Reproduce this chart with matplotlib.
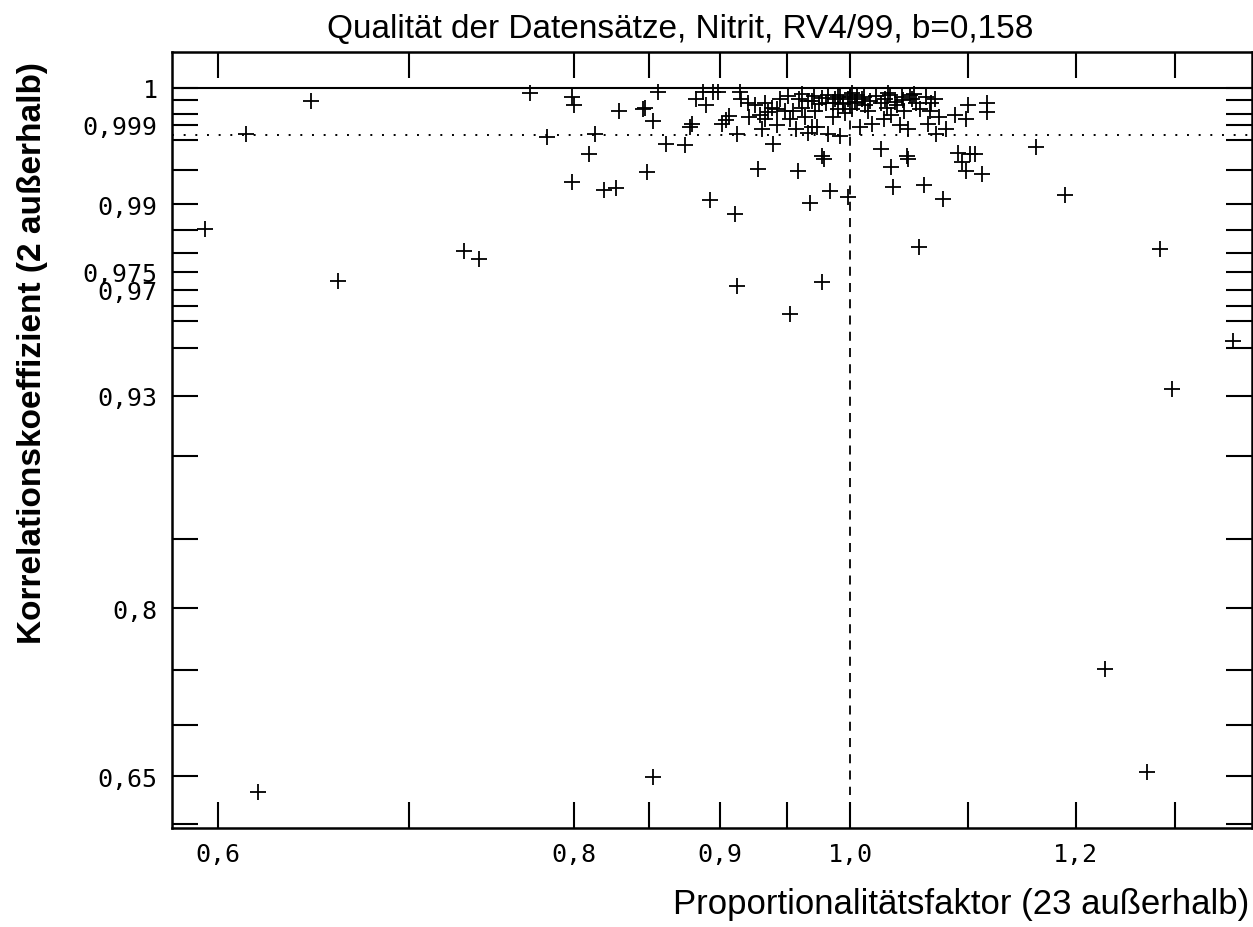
import numpy as np
import matplotlib
matplotlib.use("Agg")
import matplotlib.pyplot as plt

# Proportionalitaetsfaktor (x) und Korrelationskoeffizient (r)
faktor = [0.594, 0.614, 0.620, 0.647, 0.661, 0.732, 0.741, 0.772, 0.783, 0.799,
          0.800, 0.799, 0.810, 0.814, 0.820, 0.828, 0.830, 0.846, 0.847, 0.849,
          0.853, 0.856, 0.853, 0.862, 0.875, 0.880, 0.879, 0.883, 0.888, 0.890,
          0.893, 0.895, 0.899, 0.902, 0.905, 0.907, 0.911, 0.913, 0.915, 0.916,
          0.913, 0.921, 0.926, 0.928, 0.930, 0.931, 0.934, 0.936, 0.939, 0.940,
          0.943, 0.943, 0.951, 0.953, 0.953, 0.955, 0.957, 0.959, 0.960, 0.962,
          0.964, 0.967, 0.968, 0.970, 0.972, 0.974, 0.978, 0.979, 0.981, 0.982,
          0.984, 0.986, 0.988, 0.990, 0.992, 0.994, 0.996, 0.998, 1.000, 1.002,
          1.004, 1.006, 1.008, 1.010, 1.012, 1.015, 1.025, 1.028, 1.030, 1.031,
          1.034, 1.035, 1.034, 1.037, 1.041, 1.043, 1.045, 1.048, 1.048, 1.051,
          1.053, 1.057, 1.058, 1.062, 1.065, 1.068, 1.072, 1.075, 1.078, 1.081,
          1.089, 1.091, 1.095, 1.098, 1.100, 1.098, 1.102, 1.106, 1.113, 1.117,
          1.117, 1.162, 1.190, 1.229, 1.271, 1.285, 1.297, 1.363,
          0.962, 0.967, 0.971, 0.975, 0.978, 0.982, 0.986, 0.990, 0.994, 0.998,
          1.002, 1.006, 1.011, 1.016, 1.021, 1.025, 1.029, 1.033, 1.039, 1.044,
          1.050, 1.055, 0.970, 0.992, 1.018, 1.047, 0.978, 0.945, 0.949, 0.934,
          0.922, 1.063, 1.067, 1.071]
korrelation = [0.9853, 0.99844, 0.634, 0.99988, 0.9725, 0.9804, 0.9784, 0.99998, 0.9982, 0.99994,
               0.99979, 0.9935, 0.9968, 0.99844, 0.9923, 0.9926, 0.99961, 0.99967, 0.9997, 0.9948,
               0.9992, 0.99999, 0.6497, 0.99769, 0.9976, 0.99904, 0.99888, 0.99991, 0.99999, 0.99979,
               0.9907, 0.99999, 0.99999, 0.99904, 0.99924, 0.99942, 0.9883, 0.9711, 0.99999, 0.99991,
               0.99844, 0.99983, 0.99979, 0.99516, 0.99946, 0.99876, 0.99983, 0.99957, 0.9997, 0.99769,
               0.99967, 0.99899, 0.99995, 0.9623, 0.99929, 0.9996, 0.99876, 0.99492, 0.99991, 0.9997,
               0.99938, 0.9985, 0.9902, 0.99988, 0.9996, 0.99888, 0.9722, 0.99628, 0.99983, 0.99844,
               0.99217, 0.99938, 0.99991, 0.99967, 0.99996, 0.99983, 0.99954, 0.99123, 0.99994, 0.99967,
               0.99986, 0.99996, 0.99888, 0.99991, 0.99979, 0.9996, 0.99725, 0.99929, 0.9997, 0.99998,
               0.9954, 0.99277, 0.99946, 0.99986, 0.99899, 0.99994, 0.9996, 0.99628, 0.99876, 0.99991,
               0.99997, 0.98134, 0.99967, 0.99306, 0.99904, 0.99983, 0.99844, 0.99938, 0.99091, 0.99876,
               0.99946, 0.99688, 0.99596, 0.99492, 0.99979, 0.99929, 0.99678, 0.99678, 0.99454, 0.99983,
               0.99957, 0.99743, 0.99155, 0.7509, 0.6547, 0.98087, 0.9331, 0.9528,
               0.99997, 0.99988, 0.99995, 0.99981, 0.99993, 0.99996, 0.99983, 0.99994, 0.99981, 0.99991,
               0.99998, 0.99983, 0.99994, 0.99988, 0.99995, 0.99983, 0.99991, 0.99996, 0.99979, 0.9999,
               0.99996, 0.99983, 0.99888, 0.9983, 0.99904, 0.99659, 0.99659, 0.99991, 0.9996, 0.99929,
               0.99938, 0.99994, 0.9996, 0.99991]

x_ticks = [0.6, 0.7, 0.8, 0.85, 0.9, 0.95, 1.0, 1.1, 1.2, 1.3]
x_labels = ["0,6", "", "0,8", "", "0,9", "", "1,0", "", "1,2", ""]
y_ticks = [1.0, 0.9999, 0.9995, 0.999, 0.998, 0.995, 0.99, 0.985, 0.98, 0.975, 0.97,
           0.965, 0.96, 0.95, 0.93, 0.9, 0.85, 0.8, 0.75, 0.7, 0.65, 0.6]
y_labels = ["1", "", "", "0,999", "", "", "0,99", "", "", "0,975", "0,97",
            "", "", "", "0,93", "", "", "0,8", "", "", "0,65", ""]
grenze = 0.9984


def fwd(r):
    d = 1.0 - np.asarray(r, dtype=float)
    return -np.sign(d) * np.sqrt(np.abs(d))


def inv(g):
    g = np.asarray(g, dtype=float)
    return 1.0 + np.sign(g) * g ** 2


fig = plt.figure(figsize=(12.53, 9.28), dpi=100)
ax = fig.add_axes([0.137, 0.1064, 0.862, 0.8368])

ax.set_xscale("log")
ax.set_yscale("function", functions=(fwd, inv))
ax.set_xlim(0.578, 1.3836)
ax.set_ylim(0.5953, 1.00097)

ax.plot(faktor, korrelation, "k+", ms=12, mew=1.3, ls="none")
ax.axhline(1.0, color="black", lw=1.5)
ax.axhline(grenze, color="black", lw=1.4, ls=(0, (1, 5)))
ax.plot([1.0, 1.0], [1.0, 0.631], color="black", lw=1.3, ls=(0, (5, 4)))

ax.xaxis.set_minor_locator(matplotlib.ticker.NullLocator())
ax.yaxis.set_minor_locator(matplotlib.ticker.NullLocator())
ax.set_xticks(x_ticks)
ax.set_xticklabels(x_labels)
ax.set_yticks(y_ticks)
ax.set_yticklabels(y_labels)
ax.tick_params(direction="in", length=19, width=1.5, top=True, right=True,
               labelsize=18, pad=10)
for lab in ax.get_xticklabels() + ax.get_yticklabels():
    lab.set_family("DejaVu Sans Mono")
for sp in ax.spines.values():
    sp.set_linewidth(1.8)

fig.text(0.543, 0.968, "Qualität der Datensätze, Nitrit, RV4/99, b=0,158",
         ha="center", va="center", fontsize=24, family="Liberation Sans")
fig.text(0.997, 0.008, "Proportionalitätsfaktor (23 außerhalb)", ha="right",
         va="bottom", fontsize=25, family="Liberation Sans")
fig.text(0.026, 0.62, "Korrelationskoeffizient (2 außerhalb)", rotation=90,
         ha="center", va="center", fontsize=24, family="Liberation Sans",
         fontweight="bold")

fig.savefig("out.png", dpi=100)
